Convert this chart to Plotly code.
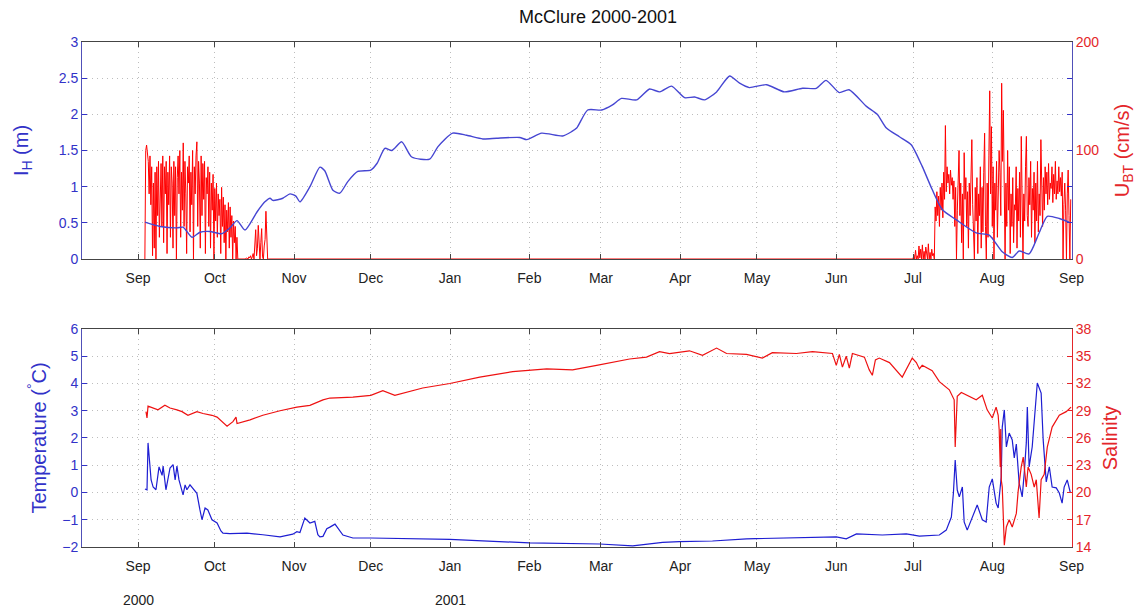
import pandas as pd
import plotly.graph_objects as go

# ---------------- data ----------------
record_start = "2000-09-01"

# ice thickness I_H (m): days since 2000-09-01, values
ih_days = [2.7, 8.6, 15.2, 17.6, 21.1, 24.2, 28.1, 32.8, 35.9, 38.7, 41.8, 46.5, 49.6, 51.6, 52.7,
           56.6, 59.4, 61.7, 63.3, 67.2, 71.1, 73.0, 76.2, 78.9, 82.0, 85.9, 91.0, 93.4, 96.5, 99.2,
           103.1, 107.0, 114.0, 117.2, 123.0, 128.5, 134.8, 140.2, 149.2, 152.0, 157.8, 166.0, 169.5,
           171.5, 175.8, 181.3, 185.5, 189.0, 195.0, 200.0, 204.0, 208.6, 213.7, 217.6, 221.5, 226.2,
           231.3, 235.2, 239.0, 245.7, 252.7, 259.8, 265.2, 269.0, 274.2, 278.0, 284.8, 289.0, 292.6,
           297.7, 302.3, 306.6, 310.5, 314.5, 320.0, 327.7, 332.8, 337.9, 341.8, 344.5, 348.4, 352.3,
           355.5, 360.2, 364.0]
ih_vals = [0.51, 0.45, 0.43, 0.44, 0.30, 0.37, 0.38, 0.35, 0.43, 0.53, 0.40, 0.65, 0.79, 0.84, 0.81,
           0.84, 0.90, 0.87, 0.79, 1.00, 1.27, 1.22, 0.95, 0.91, 1.07, 1.21, 1.23, 1.32, 1.53, 1.50,
           1.62, 1.41, 1.38, 1.55, 1.74, 1.71, 1.66, 1.67, 1.68, 1.65, 1.74, 1.70, 1.76,
           1.81, 2.06, 2.06, 2.13, 2.22, 2.20, 2.35, 2.31, 2.39, 2.23, 2.24, 2.20, 2.31,
           2.53, 2.43, 2.37, 2.41, 2.31, 2.36, 2.36, 2.47, 2.30, 2.34, 2.11, 2.00, 1.81,
           1.69, 1.58, 1.28, 0.96, 0.68, 0.54, 0.36, 0.33, 0.10, 0.02, 0.11, 0.07, 0.36,
           0.59, 0.56, 0.51]

# barotropic current U_BT (cm/s), 8-hourly samples
ubt_fall_start = "2000-09-03 16:00"
ubt_fall = [0,
    100, 105, 95,  90, 60, 95,  50, 85, 3,  70, 10, 80,  0, 85, 40,  90, 20, 78,  88, 30, 95,
    15, 85, 60,  90, 5, 80,  50, 95, 20,  85, 70, 10,  90, 40, 85,  0, 75, 95,  60, 100, 20,
    80, 45, 107,  30, 90, 60,  5, 85, 70,  95, 25, 80,  50, 100, 0,  85, 60, 95,  108, 30, 90,
    70, 10, 95,  40, 88, 55,  90, 5, 75,  60, 85, 30,  80, 10, 70,  45, 78, 0,  65, 35, 70,
    20, 60, 40,  55, 5, 66,  30, 57, 15,  50, 0, 45,  25, 52, 10,  48, 20, 40,  0, 35, 15,
    30, 0, 20,  0, 0, 0,  0, 0, 0,  0, 0, 0,  0, 1, 0,  0, 2, 1,  3, 0, 2,  5, 0, 20,
    27, 3, 10,  31, 5, 0,  15, 28, 2,  0, 12, 18,  44, 20, 0,  0, 0, 0]
ubt_summer_start = "2001-07-01 00:00"
ubt_summer = [
    0, 4, 0,  8, 0, 3,  0, 12, 1,  9, 0, 13,  0, 7, 0,  11, 2, 0,  14, 0, 6,  0, 9, 3,
    5, 0, 48,  35, 62, 40,  58, 30, 66,  45, 70, 38,  80, 55, 123,  62, 85, 70,  78, 60, 82,
    68, 75, 55,  72, 30, 66,  0, 45, 80,  100, 40, 70,  15, 60, 0,  98, 55, 75,  30, 62, 10,
    70, 40, 85,  110, 50, 20,  0, 66, 35,  75, 5, 60,  40, 85, 10,  66, 25, 80,  116, 30, 0,
    70, 20, 95,  155, 60, 122,
    30, 85, 0,  70, 45, 90,  20, 55, 100,  80, 40, 162,  90, 137, 50,  0, 70, 30,  100, 45, 85,
    5, 60, 30,  75, 15, 50,  45, 85, 10,  65, 35, 80,  20, 113, 70,  0, 60, 35,  85, 113, 40,
    30, 75, 50,  90, 20, 65,  45, 80, 15,  70, 35, 90,  25, 60, 40,  110, 55, 30,  75, 45, 85,
    60, 80, 50,  88, 55, 70,  65, 85, 52,  78, 60, 90,  55, 72, 60,  85, 62, 75,  58, 80, 0,
    50, 70, 45,  0, 60, 82,  40, 0, 55]

# temperature (deg C)
temp_days = [2.7, 3.5, 3.9, 5.1, 5.9, 7.0, 8.2, 9.4, 9.8, 10.9,
             12.5, 13.7, 14.5, 15.2, 16.0, 17.6, 18.4, 19.1, 20.3, 21.5,
             23.0, 24.2, 25.0, 26.2, 27.3, 28.9, 30.9, 32.4, 33.2, 35.9,
             42.6, 48.8, 55.5, 60.5, 62.1, 63.3, 65.2, 67.2, 69.1, 70.3,
             71.1, 72.3, 73.8, 75.0, 77.0, 80.1, 84.0, 91.0, 102.3, 121.9,
             153.1, 180.5, 193.4, 200.0, 205.1, 211.7, 224.6, 237.9, 250.8, 273.0,
             276.9, 280.9, 291.0, 300.4, 305.5, 313.3, 316.0, 318.0, 318.8, 319.5,
             320.3, 321.1, 322.3, 323.0, 324.2, 326.2, 328.1, 330.1, 331.6, 332.8,
             334.0, 335.5, 336.3, 337.5, 337.9, 338.7, 339.5, 340.6, 341.8, 342.6,
             343.4, 344.5, 345.7, 346.5, 347.3, 347.7, 348.4, 349.6, 350.8, 351.6,
             353.1, 353.9, 355.1, 356.3, 357.4, 359.0, 360.2, 361.3, 362.1, 363.3,
             364.5]
temp_vals = [0.13, 0.10, 1.82, 0.46, 0.20, 0.10, 0.94, 0.63, 0.97, 0.10,
             0.90, 1.02, 0.46, 0.97, 0.46, -0.09, 0.28, 0.10, 0.28, 0.15,
             -0.03, -0.64, -1.00, -0.57, -0.64, -1.00, -1.12, -1.41, -1.49, -1.51,
             -1.49, -1.55, -1.63, -1.53, -1.44, -1.47, -0.94, -1.12, -1.06, -1.55,
             -1.63, -1.61, -1.33, -1.27, -1.16, -1.56, -1.67, -1.67, -1.68, -1.72,
             -1.85, -1.89, -1.96, -1.90, -1.83, -1.80, -1.78, -1.70, -1.67, -1.63,
             -1.70, -1.52, -1.56, -1.52, -1.60, -1.56, -1.38, -0.90, -0.02, 1.19,
             0.09, -0.16, 0.20, -1.08, -1.38, -0.90, -0.46, -1.00, -1.08, 0.20,
             0.50, -0.39, -0.57, 0.57, 2.40, 3.03, 1.67, 2.18, 1.93, 1.27,
             1.78, 0.35, -0.16, 0.72, 1.82, 3.14, 0.94, 1.67, 3.14, 4.02,
             3.65, 1.93, 0.39, 0.94, 0.20, 0.17, -0.02, -0.39, 0.20, 0.46,
             0.00]

# salinity
sal_days = [3.1, 3.5, 3.9, 5.9, 7.8, 10.5, 12.5, 15.2, 17.2, 19.5,
            23.0, 25.4, 28.9, 30.9, 32.8, 34.8, 37.1, 38.3, 38.7, 43.8,
            48.8, 55.5, 62.1, 67.2, 72.3, 75.0, 84.0, 91.0, 95.7, 100.4,
            111.3, 121.9, 133.6, 146.5, 159.8, 169.9, 179.3, 192.2, 198.8, 203.9,
            207.8, 215.6, 220.7, 226.2, 230.1, 237.9, 244.1, 248.0, 257.4, 263.7,
            271.5, 273.0, 274.2, 275.4, 276.9, 278.1, 279.3, 284.0, 285.9, 287.1,
            288.3, 289.8, 293.8, 298.8, 302.7, 304.3, 305.5, 306.6, 310.5, 313.3,
            317.2, 319.1, 319.5, 320.3, 321.9, 327.7, 330.1, 332.0, 334.0, 335.5,
            336.3, 336.7, 337.1, 337.3, 337.5, 337.9, 338.7, 339.5, 340.6, 341.8,
            343.4, 344.1, 345.3, 346.1, 347.3, 348.0, 349.2, 350.4, 351.2, 352.3,
            353.1, 354.3, 355.5, 357.4, 360.2, 362.9, 364.8]
sal_vals = [28.9, 28.2, 29.5, 29.3, 29.1, 29.6, 29.3, 29.1, 28.9, 28.5,
            28.9, 28.7, 28.5, 28.3, 27.8, 27.3, 27.8, 28.3, 27.6, 28.0,
            28.5, 29.0, 29.4, 29.6, 30.2, 30.4, 30.5, 30.7, 31.2, 30.7,
            31.5, 32.0, 32.7, 33.3, 33.6, 33.5, 34.0, 34.7, 34.9, 35.5,
            35.3, 35.6, 35.1, 35.9, 35.3, 35.2, 34.8, 35.4, 35.3, 35.5,
            35.3, 34.0, 35.2, 33.8, 35.0, 33.7, 35.3, 34.9, 33.5, 32.9,
            34.6, 34.8, 34.3, 32.7, 34.8, 34.3, 33.6, 34.0, 33.4, 32.2,
            31.3, 30.2, 25.0, 30.6, 31.0, 30.2, 30.7, 29.1, 28.2, 29.4,
            28.5, 26.9, 22.8, 27.0, 21.4, 20.6, 14.2, 16.2, 17.0, 16.2,
            17.7, 20.1, 22.8, 23.9, 20.6, 22.8, 22.0, 20.6, 21.4, 17.2,
            21.4, 22.0, 25.0, 27.2, 28.5, 28.9, 29.4]

month_ticks = ["2000-09-01", "2000-10-01", "2000-11-01", "2000-12-01", "2001-01-01",
               "2001-02-01", "2001-03-01", "2001-04-01", "2001-05-01", "2001-06-01",
               "2001-07-01", "2001-08-01", "2001-09-01"]
month_labels = ["Sep", "Oct", "Nov", "Dec", "Jan", "Feb", "Mar", "Apr", "May", "Jun",
                "Jul", "Aug", "Sep"]
year_ticks = ["2000-09-01", "2001-01-01"]
year_labels = ["2000", "2001"]

# ---------------- build ----------------
t0 = pd.Timestamp(record_start)
def to_dates(days):
    return t0 + pd.to_timedelta(days, unit="D")

ih_t = to_dates(ih_days)
temp_t = to_dates(temp_days)
sal_t = to_dates(sal_days)
ubt_t = list(pd.date_range(ubt_fall_start, periods=len(ubt_fall), freq="8h")) + \
        list(pd.date_range(ubt_summer_start, periods=len(ubt_summer), freq="8h"))
ubt_v = ubt_fall + ubt_summer

FONT = "Liberation Sans, Arial, sans-serif"
BLUE_TXT = "#3232c8"
RED_TXT = "#e4262a"
GRID = "#bdbdbd"
GDASH = "1px,4px"

fig = go.Figure()
fig.add_trace(go.Scatter(x=ubt_t, y=ubt_v, xaxis="x", yaxis="y", mode="lines",
                         line=dict(color="#ff0000", width=1), showlegend=False))
fig.add_trace(go.Scatter(x=ih_t, y=ih_vals, xaxis="x", yaxis="y2", mode="lines",
                         line=dict(color="#4646d2", width=1.4, shape="spline", smoothing=0.6),
                         showlegend=False))
fig.add_trace(go.Scatter(x=temp_t, y=temp_vals, xaxis="x2", yaxis="y3", mode="lines",
                         line=dict(color="#1e1ed2", width=1.2), showlegend=False))
fig.add_trace(go.Scatter(x=sal_t, y=sal_vals, xaxis="x2", yaxis="y4", mode="lines",
                         line=dict(color="#ee1111", width=1.2), showlegend=False))

xcommon = dict(range=["2000-08-10 02:00", "2001-09-01 04:00"], tickvals=month_ticks,
               ticktext=month_labels, ticks="inside", ticklen=5, tickcolor="#444",
               showline=True, linecolor="#444", linewidth=1, mirror="ticks",
               showgrid=True, gridcolor=GRID, griddash=GDASH, gridwidth=1,
               ticklabelstandoff=6,
               tickfont=dict(family=FONT, size=14, color="#222"), zeroline=False)

top_dom = [0.5703, 1.0]
bot_dom = [0.0, 0.4317]

fig.update_layout(
    width=1148, height=611,
    margin=dict(l=82, r=76, t=42, b=64),
    paper_bgcolor="white", plot_bgcolor="white",
    font=dict(family=FONT, size=14, color="#222"),
    xaxis=dict(domain=[0, 1], anchor="y", **xcommon),
    xaxis2=dict(domain=[0, 1], anchor="y3", matches="x", **xcommon),
    yaxis=dict(domain=top_dom, anchor="x", side="right", range=[0, 200],
               tickvals=[0, 100, 200], ticks="inside", ticklen=5, tickcolor=RED_TXT,
               showline=True, linecolor=RED_TXT, showgrid=False, zeroline=False,
               tickfont=dict(family=FONT, size=14, color=RED_TXT),
               title=dict(text="U<sub>BT</sub> (cm/s)", standoff=16,
                          font=dict(family=FONT, size=20, color=RED_TXT))),
    yaxis2=dict(overlaying="y", anchor="x", side="left", range=[0, 3],
                tickvals=[0, 0.5, 1, 1.5, 2, 2.5, 3], ticktext=["0", "0.5", "1", "1.5", "2", "2.5", "3"],
                ticks="inside", ticklen=5, tickcolor=BLUE_TXT, mirror="ticks",
                showline=True, linecolor="#5050b8", showgrid=True, gridcolor=GRID,
                griddash=GDASH, zeroline=False,
                tickfont=dict(family=FONT, size=14, color=BLUE_TXT),
                title=dict(text="I<sub>H</sub> (m)", standoff=24,
                           font=dict(family=FONT, size=20, color=BLUE_TXT))),
    yaxis3=dict(domain=bot_dom, anchor="x2", side="left", range=[-2, 6], dtick=1,
                ticks="inside", ticklen=5, tickcolor=BLUE_TXT, mirror="ticks",
                showline=True, linecolor="#5050b8", showgrid=True, gridcolor=GRID,
                griddash=GDASH, zeroline=False,
                tickfont=dict(family=FONT, size=14, color=BLUE_TXT),
                title=dict(text="Temperature (<sup>°</sup>C)", standoff=10,
                           font=dict(family=FONT, size=20, color=BLUE_TXT))),
    yaxis4=dict(overlaying="y3", anchor="x2", side="right", range=[14, 38],
                tickvals=[14, 17, 20, 23, 26, 29, 32, 35, 38], ticks="inside", ticklen=5,
                tickcolor=RED_TXT, showline=True, linecolor=RED_TXT, showgrid=False,
                zeroline=False, tickfont=dict(family=FONT, size=14, color=RED_TXT),
                title=dict(text="Salinity", standoff=12,
                           font=dict(family=FONT, size=20, color=RED_TXT))),
)

fig.add_annotation(text="McClure 2000-2001", xref="paper", yref="paper", x=(598 - 82) / 990,
                   y=1 + (42 - 17) / 505, xanchor="center", yanchor="middle",
                   showarrow=False, font=dict(family=FONT, size=18, color="#111"))
for yv, yl in zip(year_ticks, year_labels):
    fig.add_annotation(text=yl, xref="x2", yref="paper", x=yv, y=-(600 - 547) / 505,
                       xanchor="center", yanchor="middle", showarrow=False,
                       font=dict(family=FONT, size=14, color="#222"))

fig.write_html("out.html", config={"displayModeBar": False},
               post_script="document.body.style.margin='0';document.body.style.overflow='hidden';")
